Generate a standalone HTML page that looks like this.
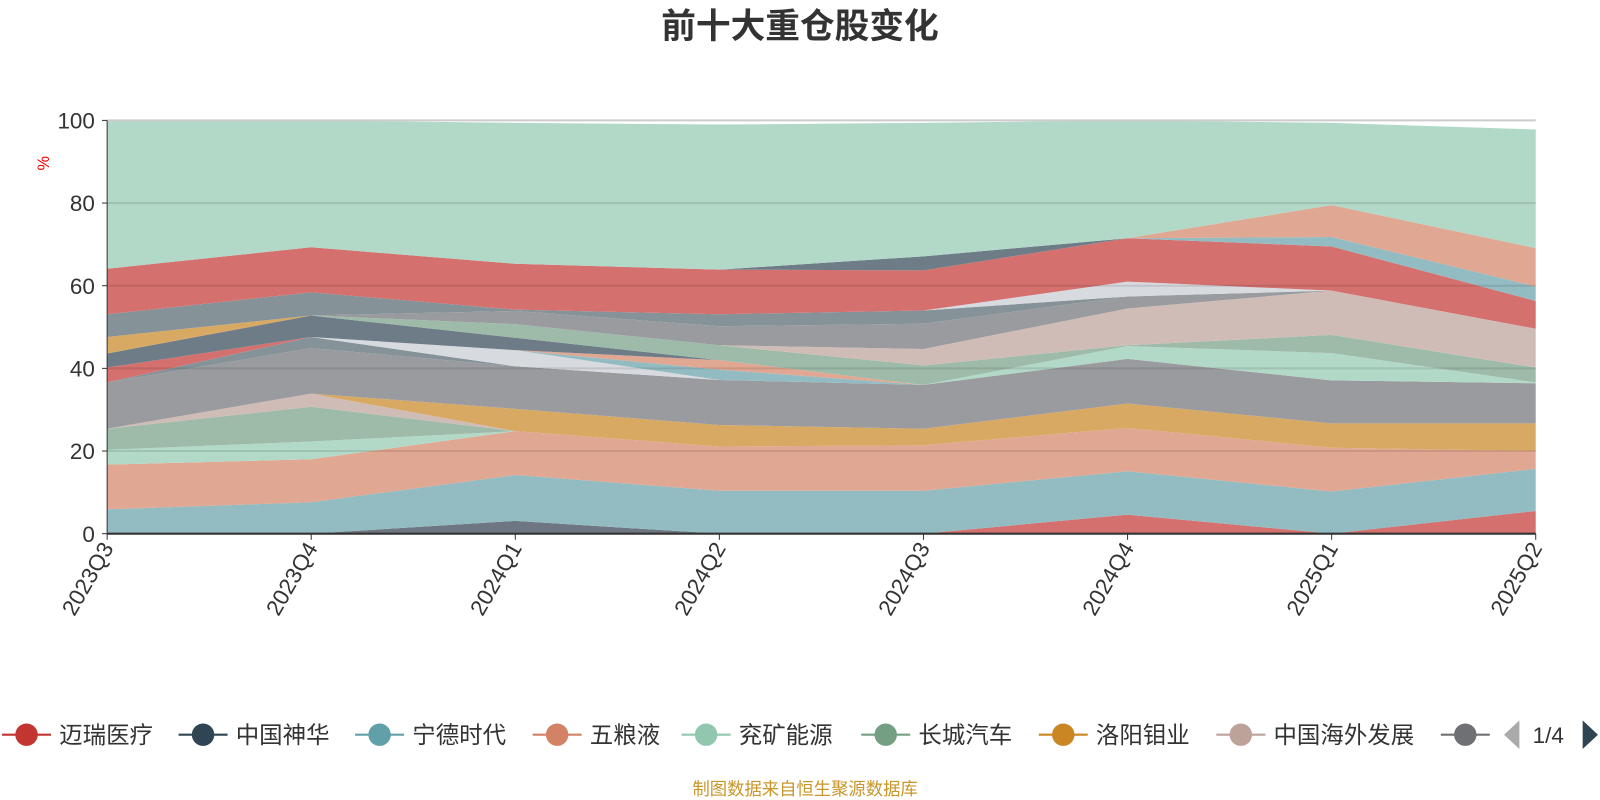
<!DOCTYPE html>
<html><head><meta charset="utf-8">
<style>
body{margin:0;background:#fff;}
svg{display:block;}
svg text{font-family:"Liberation Sans","Noto Sans CJK SC",sans-serif;}
</style></head>
<body>
<svg id="chart" width="1600" height="800" viewBox="0 0 1568 784" xmlns="http://www.w3.org/2000/svg">
<text x="784" y="37" text-anchor="middle" font-size="34" font-weight="bold" fill="#333">前十大重仓股变化</text>
<text transform="translate(48,160) rotate(-90)" text-anchor="middle" font-size="16" fill="#e00">%</text>
<g id="areas"></g>
<g id="grid"></g>
<g id="axes"></g>
<g id="legend"></g>
<text x="789" y="779" text-anchor="middle" font-size="17" fill="#c8962a">制图数据来自恒生聚源数据库</text>
</svg>
<script>
const categories=["2023Q3","2023Q4","2024Q1","2024Q2","2024Q3","2024Q4","2025Q1","2025Q2"];
const yTicks=[0,20,40,60,80,100];
const layerColors=["#d4706e","#6e7781","#93bcc2","#e0a792","#b2d8c7","#9dbba8","#d0bcb6","#d8a962","#9a9b9f","#859399","#d4706e","#d7dbe0","#93bcc2","#e0a792","#b2d8c7","#6e7c88","#d8a962","#9dbba8","#d0bcb6","#9a9b9f","#859399","#d7dbe0","#d4706e","#6e7c88","#93bcc2","#e0a792","#b2d8c7"];
const s01=[0,0,0,0,0,4.6,0,5.5];
const s02=[0,0,3.1,0,0,0,0,0];
const s03=[5.9,7.6,11.1,10.4,10.4,10.5,10.2,10.2];
const s04=[10.8,10.4,10.6,10.7,11.0,10.5,10.6,4.3];
const s05=[3.6,4.3,0,0,0,0,0,0];
const s06=[5.1,8.4,0,0,0,0,0,0];
const s07=[0,3.2,0,0,0,0,0,0];
const s08=[0,0,5.4,5.2,4.0,5.9,5.9,6.7];
const s09=[11.2,11.0,10.3,10.9,10.6,10.8,10.4,9.7];
const s10=[0,2.7,0,0,0,0,0,0];
const s11=[3.6,0,0,0,0,0,0,0];
const s12=[0,0,3.9,0,0,0,0,0];
const s13=[0,0,0,2.5,0,0,0,0];
const s14=[0,0,0,2.3,0,0,0,0];
const s15=[0,0,0,0,0,3.1,6.6,0.2];
const s16=[3.4,5.2,3.0,0,0,0,0,0];
const s17=[4.0,0,0,0,0,0,0,0];
const s18=[0,0,3.3,3.6,4.7,0.2,4.4,3.6];
const s19=[0,0,0,0,4.0,8.9,10.7,9.4];
const s20=[0,0,3.2,4.6,6.1,2.9,0,0];
const s21=[5.5,5.6,0.3,2.9,3.2,0,0,0];
const s22=[0,0,0,0,0,3.6,0,0];
const s23=[11.0,10.9,11.1,10.8,9.7,10.5,10.7,6.7];
const s24=[0,0,0,0,3.4,0,0,0];
const s25=[0,0,0,0,0,0,2.3,3.5];
const s26=[0,0,0,0,0,0,7.7,9.3];
const s27=[35.9,30.7,34.1,35.1,32.3,28.5,19.9,28.7];
const series=[s01,s02,s03,s04,s05,s06,s07,s08,s09,s10,s11,s12,s13,s14,s15,s16,s17,s18,s19,s20,s21,s22,s23,s24,s25,s26,s27];
const legendNames=["迈瑞医疗","中国神华","宁德时代","五粮液","兖矿能源","长城汽车","洛阳钼业","中国海外发展",""];
const legendColors=["#c23531","#2f4554","#61a0a8","#d48265","#91c7ae","#749f83","#ca8622","#bda29a","#6e7074"];

const NS="http://www.w3.org/2000/svg";
const X0=105,X1=1505,Y0=523,Y1=118;
const xs=i=>X0+(X1-X0)*i/(categories.length-1);
const ys=v=>Y0-(Y0-Y1)*v/100;
function mk(tag,attrs,parent){const e=document.createElementNS(NS,tag);for(const k in attrs)e.setAttribute(k,attrs[k]);parent.appendChild(e);return e;}
const areas=document.getElementById('areas');
let base=categories.map(()=>0);
series.forEach((s,si)=>{
  const top=base.map((b,i)=>b+s[i]);
  let d="";
  top.forEach((v,i)=>{d+=(i?"L":"M")+xs(i)+","+ys(v);});
  for(let i=base.length-1;i>=0;i--)d+="L"+xs(i)+","+ys(base[i]);
  const p=mk('path',{d:d+"Z",fill:layerColors[si]},areas);
  
  
  base=top;
});
const grid=document.getElementById('grid');
yTicks.forEach(t=>{
  if(t===0)return;
  const l=mk('line',{x1:X0,x2:X1,y1:ys(t),y2:ys(t),stroke:t===100?"#ccc":"rgba(0,0,0,0.1)","stroke-width":2},grid);
  
  
});
const axes=document.getElementById('axes');
mk('line',{x1:X0,x2:X0,y1:Y1,y2:Y0,stroke:"#333","stroke-width":1},axes);
mk('line',{x1:X0,x2:X1,y1:Y0,y2:Y0,stroke:"#333","stroke-width":2},axes);
yTicks.forEach(t=>{
  mk('line',{x1:X0-5,x2:X0,y1:ys(t),y2:ys(t),stroke:"#333"},axes);
  const tx=mk('text',{x:X0-12,y:ys(t)+8,"text-anchor":"end","font-size":22,fill:"#333"},axes);
  tx.textContent=t;
  
  
});
categories.forEach((c,i)=>{
  mk('line',{x1:xs(i),x2:xs(i),y1:Y0,y2:Y0+6,stroke:"#333"},axes);
  const tx=mk('text',{transform:`translate(${xs(i)+7},${Y0+14}) rotate(-60)`,"text-anchor":"end","font-size":22,fill:"#333"},axes);
  tx.textContent=c;
  
  
});
const leg=document.getElementById('legend');
const iconX=[2,175,348,522,668,844,1018,1192,1412];
legendNames.forEach((n,i)=>{
  const g=mk('g',{},leg);
  
  
  const x=iconX[i];
  mk('line',{x1:x,x2:x+48,y1:720,y2:720,stroke:legendColors[i],"stroke-width":2},g);
  mk('circle',{cx:x+24,cy:720,r:11,fill:legendColors[i]},g);
  if(n){const t=mk('text',{x:x+56,y:728,"font-size":23,fill:"#333"},g);t.textContent=n;}
});
const pl=mk('path',{d:"M1474,720 L1489,706 L1489,734 Z",fill:"#aaa"},leg);


const pt=mk('text',{x:1502,y:728,"font-size":22,fill:"#333"},leg);
pt.textContent="1/4";


const pn=mk('path',{d:"M1551,706 L1566,720 L1551,734 Z",fill:"#2f4554"},leg);


</script>
</body></html>
